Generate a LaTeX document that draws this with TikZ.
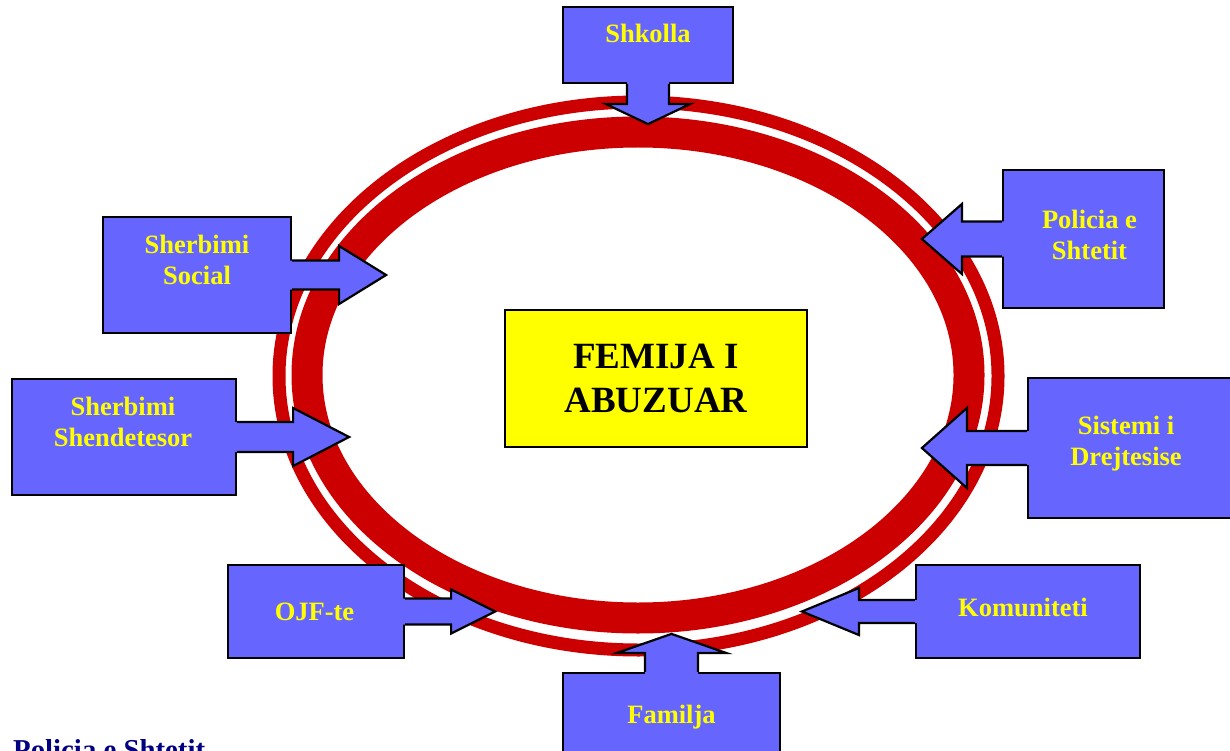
\documentclass[tikz,border=0pt]{standalone}
\usepackage{fontspec}
\setmainfont{Liberation Serif}
\usepackage{xcolor}
\usepackage{tikz}
\usetikzlibrary{positioning, calc}

\definecolor{ringred}{RGB}{204,0,0}
\definecolor{boxblue}{RGB}{102,102,255}
\definecolor{lblyellow}{RGB}{255,255,0}
\definecolor{notenavy}{RGB}{0,0,128}

\tikzset{
  outline/.style={draw=black, line width=2.2pt},
  callbox/.style={outline, fill=boxblue, inner sep=0pt},
  lbl/.style={text=lblyellow, font=\fontsize{26.5}{31}\selectfont\bfseries, align=center},
  ring/.style={draw=ringred}
}

% arrow of a callout: start, angle, shaft length, half shaft, half head, head length
\newcommand{\calloutarrow}[6]{%
  \begin{scope}[shift={(#1)}, rotate=#2]
    \fill[boxblue] (-4,-#4) -- (#3,-#4) -- (#3,-#5) -- ({#3+#6},0) -- (#3,#5) -- (#3,#4) -- (-4,#4) -- cycle;
    \draw[outline] (0,-#4) -- (#3,-#4) -- (#3,-#5) -- ({#3+#6},0) -- (#3,#5) -- (#3,#4) -- (0,#4);
  \end{scope}}

\begin{document}
\begin{tikzpicture}[x=1pt, y=-1pt]
    \useasboundingbox (0,0) rectangle (1230,751);

    % the ring
    \draw[ring, line width=13pt] (638.5,376) ellipse [x radius=359.5, y radius=274];
    \draw[ring, line width=31pt] (638,375) ellipse [x radius=331, y radius=243];

    % centre
    \node[draw=black, line width=2.2pt, fill=lblyellow, minimum width=302pt, minimum height=137pt,
          font=\fontsize{37}{44}\selectfont\bfseries, align=center] (femija) at (656,378.5) {FEMIJA I\\ABUZUAR};

    % callout boxes
    \node[callbox, minimum width=170pt, minimum height=76pt] (shkolla) at (648,45) {};
    \node[callbox, minimum width=188pt, minimum height=116pt] (social) at (197,275) {};
    \node[callbox, minimum width=161pt, minimum height=138pt] (policia) at (1083.5,239) {};
    \node[callbox, minimum width=224pt, minimum height=116pt] (shendet) at (124,437) {};
    \node[callbox, minimum width=204pt, minimum height=140pt] (sistemi) at (1130,448) {};
    \node[callbox, minimum width=176pt, minimum height=93pt] (ojf) at (316,611.5) {};
    \node[callbox, minimum width=224pt, minimum height=93pt] (komun) at (1028,611.5) {};
    \node[callbox, minimum width=217pt, minimum height=100pt] (familja) at (671.5,723) {};

    % callout arrows
    \calloutarrow{shkolla.south}{-90}{20}{21}{42}{20}
    \calloutarrow{social.east}{0}{47}{14.5}{29}{47}
    \calloutarrow{policia.west}{180}{40}{17.5}{35}{40}
    \calloutarrow{shendet.east}{0}{56}{15}{29}{56}
    \calloutarrow{sistemi.west}{180}{60}{17}{40}{45}
    \calloutarrow{ojf.east}{0}{46}{13}{22}{44}
    \calloutarrow{komun.west}{180}{56}{11.5}{23.5}{57}
    \calloutarrow{familja.north}{90}{19}{26.5}{54.5}{19}

    % labels
    \node[lbl] (shkolla-t) at ([yshift=12pt]shkolla.center) {Shkolla};
    \node[lbl] (social-t) at ([yshift=15pt]social.center) {Sherbimi\\Social};
    \node[lbl] (policia-t) at ([xshift=6pt, yshift=4pt]policia.center) {Policia e\\Shtetit};
    \node[lbl] (shendet-t) at ([xshift=-1pt, yshift=15pt]shendet.center) {Sherbimi\\Shendetesor};
    \node[lbl] (sistemi-t) at ([xshift=-4pt, yshift=4pt]sistemi.center) {Sistemi i\\Drejtesise};
    \node[lbl] (ojf-t) at ([xshift=-1.5pt]ojf.center) {OJF-te};
    \node[lbl] (komun-t) at ([xshift=-5pt, yshift=4pt]komun.center) {Komuniteti};
    \node[lbl] (familja-t) at ([yshift=6pt]familja.center) {Familja};

    \node[anchor=base west, inner sep=0pt, text=notenavy, font=\fontsize{28.8}{34}\selectfont\bfseries] (note) at (13,759) {Policia e Shtetit};
\end{tikzpicture}
\end{document}
